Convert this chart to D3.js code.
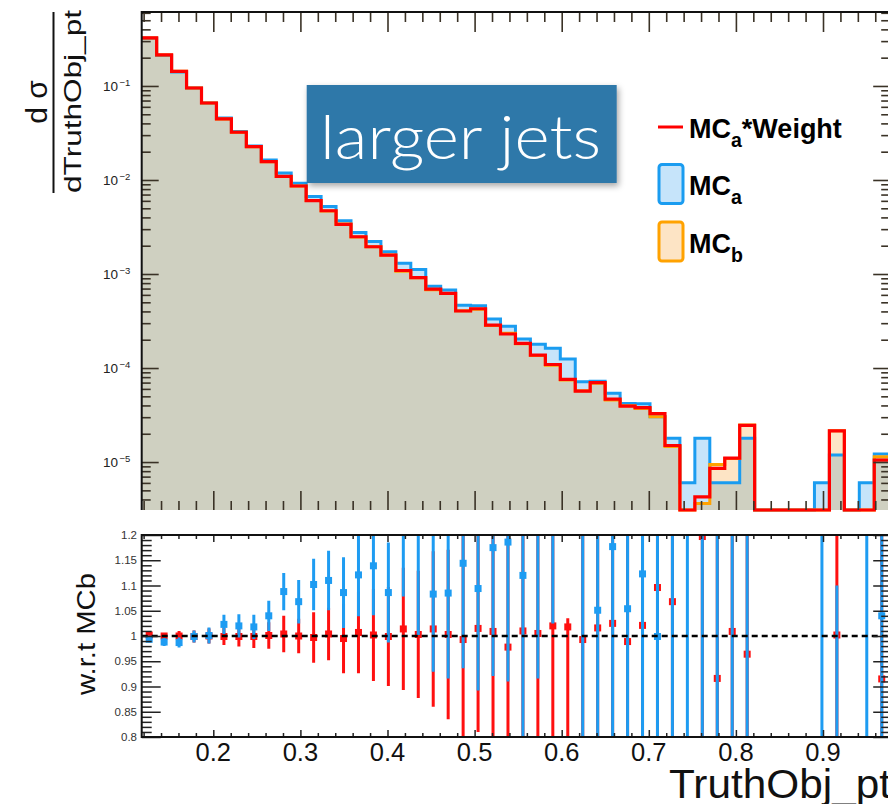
<!DOCTYPE html>
<html>
<head>
<meta charset="utf-8">
<title>larger jets</title>
<script src="https://d3js.org/d3.v7.min.js"></script>
<style>
  body { margin: 0; background: #fff; }
  svg { display: block; font-family: "Liberation Sans", Arial, Helvetica, sans-serif; }
</style>
</head>
<body>
<svg id="chart" width="888" height="804"></svg>
<script>
// histogram definition
const xLow = 0.1178, xHigh = 0.976, nBins = 50;

// MC_a (blue)
const mcA = [0.321, 0.211, 0.141, 0.0952, 0.0660, 0.0456, 0.0328, 0.0230, 0.01627, 0.01186,
  0.00922, 0.00667, 0.00521, 0.00369, 0.00277, 0.00222, 0.00173, 0.00130, 0.00112, 0.000739,
  0.000674, 0.000466, 0.000461, 0.000333, 0.000279, 0.000203, 0.000179, 0.000162, 0.000125, 7.14e-5,
  7.22e-5, 5.38e-5, 4.19e-5, 4.18e-5, 3.03e-5, 1.79e-5, 6.04e-6, 1.79e-5, 6.04e-6, 6.04e-6,
  1.79e-5, 0, 0, 0, 0, 6.04e-6, 1.19e-5, 0, 6.04e-6, 1.22e-5];
// MC_b (orange)
const mcB = [0.323, 0.214, 0.143, 0.0953, 0.0659, 0.0446, 0.0322, 0.0226, 0.01564, 0.01090,
  0.00863, 0.00605, 0.00469, 0.00340, 0.00247, 0.00195, 0.00159, 0.00107, 0.000911, 0.000682,
  0.000621, 0.000407, 0.000421, 0.000283, 0.000235, 0.000181, 0.000136, 0.000107, 7.45e-5, 5.73e-5,
  6.87e-5, 4.57e-5, 3.98e-5, 3.72e-5, 3.03e-5, 1.46e-5, 0, 3.63e-6, 9.40e-6, 1.09e-5,
  2.48e-5, 0, 0, 0, 0, 0, 2.15e-5, 0, 0, 1.14e-5];
// MC_a * Weight (red)
const mcAW = [0.324, 0.214, 0.143, 0.0952, 0.0659, 0.0446, 0.0322, 0.0226, 0.01566, 0.01094,
  0.00863, 0.00603, 0.00471, 0.00338, 0.00249, 0.00195, 0.00159, 0.00109, 0.000914, 0.000692,
  0.000623, 0.000404, 0.000427, 0.000286, 0.000230, 0.000183, 0.000137, 0.000109, 7.58e-5, 5.69e-5,
  6.98e-5, 4.68e-5, 3.94e-5, 3.80e-5, 3.27e-5, 1.50e-5, 0, 4.27e-6, 8.57e-6, 1.10e-5,
  2.45e-5, 0, 0, 0, 0, 0, 2.15e-5, 0, 0, 1.05e-5];

// ratio panel: MC_a / MC_b (blue) and MC_a*Weight / MC_b (red)
const ratioA = [0.9935, 0.988, 0.987, 0.999, 1.001, 1.023, 1.020, 1.018, 1.040, 1.088,
  1.068, 1.102, 1.110, 1.086, 1.121, 1.139, 1.086, 1.21, 1.23, 1.083,
  1.085, 1.144, 1.094, 1.175, 1.186, 1.120, 1.30, 1.45, 1.67, 1.25,
  1.051, 1.177, 1.054, 1.123, 0.999, 1.23, 0, 4.9, 0.64, 0.55,
  0.72, null, null, null, null, 0, 0.55, null, 0, 1.040];
const errA = [0.006, 0.008, 0.010, 0.012, 0.016, 0.019, 0.023, 0.024, 0.030, 0.037,
  0.043, 0.051, 0.059, 0.070, 0.082, 0.098, 0.099, 0.132, 0.228, 0.154,
  0.169, 0.208, 0.202, 0.254, 0.276, 0.32, 0.384, 0.425, 0.40, 0.60,
  0.60, 0.60, 0.70, 0.70, 0.70, 1.0, 2.0, 5.0, 1.0, 1.0,
  1.0, null, null, null, null, 2.0, 0.55, null, 2.0, 1.0];
const ratioW = [1.002, 1.000, 1.000, 0.999, 1.000, 0.999, 0.999, 0.999, 1.001, 1.004,
  1.000, 0.997, 1.004, 0.995, 1.007, 1.002, 0.999, 1.014, 1.003, 1.014,
  1.003, 0.993, 1.015, 1.009, 0.978, 1.010, 1.005, 1.020, 1.018, 0.993,
  1.016, 1.025, 0.989, 1.021, 1.096, 1.068, null, 1.197, 0.916, 1.009,
  0.964, null, null, null, null, null, 1.002, null, null, 0.915];
// red error bars: lower and upper half-lengths
const errWLo = [0.006, 0.006, 0.010, 0.012, 0.015, 0.017, 0.020, 0.023, 0.026, 0.036,
  0.034, 0.050, 0.052, 0.069, 0.081, 0.091, 0.098, 0.121, 0.126, 0.154,
  0.168, 0.25, 0.205, 0.25, 0.30, 0.30, 0.30, 0.35, 0.40, 0.50,
  0.50, 0.50, 0.55, 0.55, 0.60, 0.80, null, 1.2, 0.9, 0.9,
  0.9, null, null, null, null, null, 1.0, null, null, 1.0];
const errWHi = [0.006, 0.006, 0.010, 0.012, 0.015, 0.017, 0.020, 0.023, 0.026, 0.036,
  0.034, 0.050, 0.052, 0.069, 0.081, 0.091, 0.098, 0.121, 0.126, 0.154,
  0.168, 0.25, 0.205, 0.25, 0.30, 0.30, 0.30, 0.35, 0.017, 0.50,
  0.50, 0.50, 0.55, 0.55, 0.60, 0.80, null, 1.2, 0.9, 0.9,
  0.9, null, null, null, null, null, 1.0, null, null, 1.0];

// axis ticks
const decades = [1e-1, 1e-2, 1e-3, 1e-4, 1e-5];
const decadeExp = ["\u22121", "\u22122", "\u22123", "\u22124", "\u22125"];
const xTicks = [0.2, 0.3, 0.4, 0.5, 0.6, 0.7, 0.8, 0.9];
const xTickLabels = ["0.2", "0.3", "0.4", "0.5", "0.6", "0.7", "0.8", "0.9"];
const ratioTicks = [0.8, 0.85, 0.9, 0.95, 1, 1.05, 1.1, 1.15, 1.2];
const ratioTickLabels = ["0.8", "0.85", "0.9", "0.95", "1", "1.05", "1.1", "1.15", "1.2"];

// layout
const left = 141.7, right = 889.2;
const top0 = 12, top1 = 510;
const rat0 = 535, rat1 = 737;

const svg = d3.select("#chart");
const defs = svg.append("defs");
defs.append("clipPath").attr("id", "clipTop")
  .append("rect").attr("x", left).attr("y", top0).attr("width", right - left).attr("height", top1 - top0 + 2);
defs.append("clipPath").attr("id", "clipRat")
  .append("rect").attr("x", left).attr("y", rat0).attr("width", right - left).attr("height", rat1 - rat0);
const shadow = defs.append("filter").attr("id", "shadow")
  .attr("x", "-10%").attr("y", "-10%").attr("width", "130%").attr("height", "140%");
shadow.append("feDropShadow").attr("dx", 2).attr("dy", 3).attr("stdDeviation", 3)
  .attr("flood-color", "#000").attr("flood-opacity", 0.35);

const x = d3.scaleLinear().domain([xLow, xHigh]).range([left, right]);
const y = d3.scaleLog().domain([3.09e-6, 0.612]).range([top1, top0]).clamp(true);
const yr = d3.scaleLinear().domain([0.8, 1.2]).range([rat1, rat0]);

const edges = d3.range(nBins + 1).map(function(i) { return xLow + i * (xHigh - xLow) / nBins; });
const centers = d3.range(nBins).map(function(i) { return (edges[i] + edges[i + 1]) / 2; });

function steps(vals) {
  let pts = vals.map(function(v, i) { return [edges[i], v]; });
  pts.push([edges[nBins], vals[nBins - 1]]);
  return pts;
}
function yv(v) { return v > 0 ? y(v) : top1; }

const area = d3.area().curve(d3.curveStepAfter)
  .x(function(d) { return x(d[0]); })
  .y0(top1)
  .y1(function(d) { return yv(d[1]); });
const line = d3.line().curve(d3.curveStepAfter)
  .x(function(d) { return x(d[0]); })
  .y(function(d) { return yv(d[1]); });

// ---- top panel ----
const gTop = svg.append("g").attr("clip-path", "url(#clipTop)");
const mcMin = mcA.map(function(v, i) { return Math.min(v, mcB[i]); });
gTop.append("path").attr("d", area(steps(mcA))).attr("fill", "#c6e4fa");
gTop.append("path").attr("d", area(steps(mcB))).attr("fill", "#fde4c5");
gTop.append("path").attr("d", area(steps(mcMin))).attr("fill", "#cfd0c1");
gTop.append("path").attr("d", line(steps(mcA))).attr("fill", "none").attr("stroke", "#1a9cf0").attr("stroke-width", 3);
gTop.append("path").attr("d", line(steps(mcB))).attr("fill", "none").attr("stroke", "#ffa200").attr("stroke-width", 3);
gTop.append("path").attr("d", line(steps(mcAW))).attr("fill", "none").attr("stroke", "#ff0000").attr("stroke-width", 3.2);

// log axis ticks (inward)
let minors = [];
for (let k = -6; k <= -1; k++) {
  for (let m = 2; m <= 9; m++) {
    let v = m * Math.pow(10, k);
    if (v > 3.09e-6 && v < 0.612) minors.push(v);
  }
}
function noDomain(g) { g.select(".domain").remove(); g.selectAll("text").remove(); }
const tickCol = "#3a3226";
[[d3.axisLeft, left, 17, 9], [d3.axisRight, right, 16, 8]].forEach(function(a) {
  svg.append("g").attr("transform", "translate(" + a[1] + ",0)")
    .call(a[0](y).tickValues(decades).tickSize(-a[2]).tickFormat(""))
    .call(noDomain);
  svg.append("g").attr("transform", "translate(" + a[1] + ",0)")
    .call(a[0](y).tickValues(minors).tickSize(-a[3]).tickFormat(""))
    .call(noDomain);
});
const xMinors = d3.range(0.12, 0.98, 0.02).filter(function(v) {
  return Math.abs(v * 10 - Math.round(v * 10)) > 1e-6;
});
[[d3.axisTop, top0, 20, 10], [d3.axisBottom, top1, 19, 9]].forEach(function(a) {
  svg.append("g").attr("transform", "translate(0," + a[1] + ")")
    .call(a[0](x).tickValues(xTicks).tickSize(-a[2]).tickFormat(""))
    .call(noDomain);
  svg.append("g").attr("transform", "translate(0," + a[1] + ")")
    .call(a[0](x).tickValues(xMinors).tickSize(-a[3]).tickFormat(""))
    .call(noDomain);
});
svg.selectAll(".tick line").attr("stroke", tickCol).attr("stroke-width", 1.6);

// frame of top panel
svg.append("path").attr("d", "M" + left + "," + top1 + "V" + top0 + "H" + right + "V" + top1)
  .attr("fill", "none").attr("stroke", "#111").attr("stroke-width", 2);

// log labels
decades.forEach(function(v, i) {
  const t = svg.append("text").attr("x", 103).attr("y", y(v) + 5)
    .attr("font-size", 13.5).attr("fill", "#222");
  t.append("tspan").text("10");
  t.append("tspan").attr("dy", -5).attr("dx", 1.5).attr("font-size", 9.5).text(decadeExp[i]);
});

// y title (fraction)
const gT = svg.append("g");
gT.append("text").attr("transform", "translate(47,102) rotate(-90)")
  .attr("text-anchor", "middle").attr("font-size", 30).attr("fill", "#111")
  .text("d \u03c3");
gT.append("line").attr("x1", 53.5).attr("x2", 53.5).attr("y1", 12).attr("y2", 193)
  .attr("stroke", "#111").attr("stroke-width", 2);
gT.append("text").attr("transform", "translate(81,101.5) rotate(-90)")
  .attr("text-anchor", "middle").attr("font-size", 24.5).attr("fill", "#111")
  .attr("textLength", 183).attr("lengthAdjust", "spacingAndGlyphs")
  .text("dTruthObj_pt");

// label box
svg.append("rect").attr("x", 306.7).attr("y", 85).attr("width", 310).attr("height", 98)
  .attr("fill", "#2e78a9").attr("filter", "url(#shadow)");
svg.append("text").attr("x", 320).attr("y", 159).attr("font-size", 62)
  .attr("font-family", "Lato, 'Open Sans', 'Liberation Sans', sans-serif").attr("font-weight", 300)
  .attr("fill", "#fff").attr("textLength", 281).attr("lengthAdjust", "spacingAndGlyphs")
  .text("larger jets");

// legend
const leg = svg.append("g").attr("font-weight", "bold").attr("fill", "#000");
leg.append("line").attr("x1", 658).attr("x2", 683).attr("y1", 127).attr("y2", 127)
  .attr("stroke", "#ff0000").attr("stroke-width", 3);
leg.append("rect").attr("x", 659).attr("y", 164.5).attr("width", 24).attr("height", 39).attr("rx", 3)
  .attr("fill", "#c6e4fa").attr("stroke", "#1a9cf0").attr("stroke-width", 3);
leg.append("rect").attr("x", 659).attr("y", 222).attr("width", 24).attr("height", 39).attr("rx", 3)
  .attr("fill", "#fde4c5").attr("stroke", "#ffa200").attr("stroke-width", 3);
function legText(yb, sub, rest) {
  const t = leg.append("text").attr("x", 689).attr("y", yb).attr("font-size", 27);
  t.append("tspan").text("MC");
  t.append("tspan").attr("dy", 9).attr("font-size", 19.5).text(sub);
  if (rest) t.append("tspan").attr("dy", -9).text(rest);
}
legText(138, "a", "*Weight");
legText(195, "a", null);
legText(253, "b", null);

// ---- ratio panel ----
const gR = svg.append("g").attr("clip-path", "url(#clipRat)");
function drawRatio(vals, errLo, errHi, col) {
  const idx = d3.range(nBins).filter(function(i) { return vals[i] !== null; });
  gR.selectAll(null).data(idx).enter().append("line")
    .attr("x1", function(i) { return x(centers[i]); })
    .attr("x2", function(i) { return x(centers[i]); })
    .attr("y1", function(i) { return yr(vals[i] - errLo[i]); })
    .attr("y2", function(i) { return yr(vals[i] + errHi[i]); })
    .attr("stroke", col).attr("stroke-width", 3);
  gR.selectAll(null).data(idx).enter().append("rect")
    .attr("x", function(i) { return x(centers[i]) - 3.5; })
    .attr("y", function(i) { return yr(vals[i]) - 3.5; })
    .attr("width", 7).attr("height", 7)
    .attr("fill", col);
}
drawRatio(ratioW, errWLo, errWHi, "#ff1010");
drawRatio(ratioA, errA, errA, "#1e9cf2");
gR.append("line").attr("x1", left).attr("x2", right).attr("y1", yr(1)).attr("y2", yr(1))
  .attr("stroke", "#000").attr("stroke-width", 2.5).attr("stroke-dasharray", "6,4");

// ratio ticks
const rMinors = d3.range(80, 121).map(function(k) { return k / 100; })
  .filter(function(v) { return Math.round(v * 100) % 5 !== 0; });
[[d3.axisLeft, left, 19, 10], [d3.axisRight, right, 16, 8]].forEach(function(a) {
  svg.append("g").attr("class", "rt").attr("transform", "translate(" + a[1] + ",0)")
    .call(a[0](yr).tickValues(ratioTicks).tickSize(-a[2]).tickFormat(""))
    .call(noDomain);
  svg.append("g").attr("class", "rt").attr("transform", "translate(" + a[1] + ",0)")
    .call(a[0](yr).tickValues(rMinors).tickSize(-a[3]).tickFormat(""))
    .call(noDomain);
});
[[d3.axisTop, rat0, 7, 4], [d3.axisBottom, rat1, 7, 4]].forEach(function(a) {
  svg.append("g").attr("class", "rt").attr("transform", "translate(0," + a[1] + ")")
    .call(a[0](x).tickValues(xTicks).tickSize(-a[2]).tickFormat(""))
    .call(noDomain);
  svg.append("g").attr("class", "rt").attr("transform", "translate(0," + a[1] + ")")
    .call(a[0](x).tickValues(xMinors).tickSize(-a[3]).tickFormat(""))
    .call(noDomain);
});
svg.selectAll(".rt .tick line").attr("stroke", "#222").attr("stroke-width", 1.5);

svg.append("rect").attr("x", left).attr("y", rat0).attr("width", right - left).attr("height", rat1 - rat0)
  .attr("fill", "none").attr("stroke", "#111").attr("stroke-width", 2);

// ratio labels
svg.selectAll(".rlab").data(ratioTicks).enter().append("text")
  .attr("x", 137).attr("y", function(d) { return yr(d) + 4; })
  .attr("text-anchor", "end").attr("font-size", 11.5).attr("fill", "#333")
  .text(function(d, i) { return ratioTickLabels[i]; });
svg.selectAll(".xlab").data(xTicks).enter().append("text")
  .attr("x", function(d) { return x(d); }).attr("y", 761)
  .attr("text-anchor", "middle").attr("font-size", 25.5).attr("fill", "#111")
  .text(function(d, i) { return xTickLabels[i]; });

svg.append("text").attr("transform", "translate(95,634) rotate(-90)")
  .attr("text-anchor", "middle").attr("font-size", 25.5).attr("fill", "#111")
  .attr("textLength", 122).attr("lengthAdjust", "spacingAndGlyphs")
  .text("w.r.t MCb");
svg.append("text").attr("x", 669).attr("y", 798).attr("font-size", 41).attr("fill", "#111")
  .attr("textLength", 222).attr("lengthAdjust", "spacingAndGlyphs")
  .text("TruthObj_pt");
</script>
</body>
</html>
